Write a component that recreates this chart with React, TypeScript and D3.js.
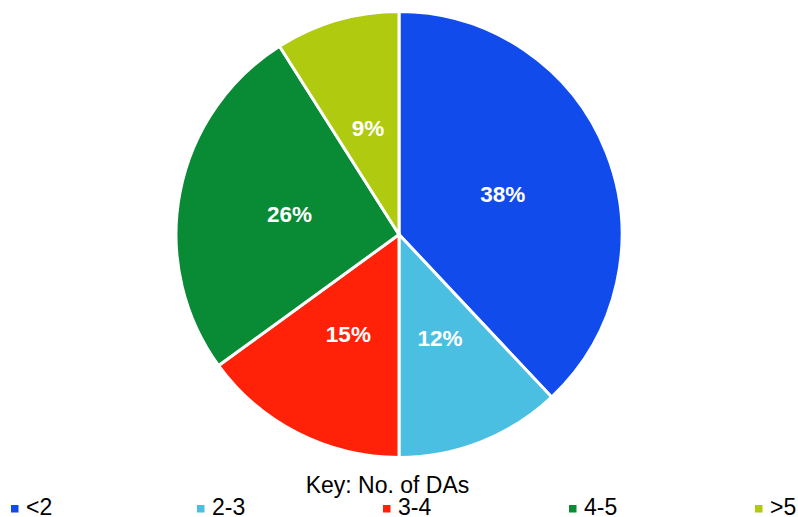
import React from "react";
import * as d3 from "d3";

const categories = ["<2", "2-3", "3-4", "4-5", ">5"];
const values = [38, 12, 15, 26, 9];
const colors = ["#124BEB", "#4BBFE1", "#FF2208", "#098A35", "#AFCA0F"];
const legendTitle = "Key: No. of DAs";

const W = 798;
const H = 517;
const cx = 399;
const cy = 234.5;
const R = 223;

export default function App() {
  const pie = d3
    .pie<number>()
    .sort(null)
    .value(d => d);
  const arcs = pie(values);
  const arc = d3.arc<d3.PieArcDatum<number>>().innerRadius(0).outerRadius(R);
  const labelArc = d3
    .arc<d3.PieArcDatum<number>>()
    .innerRadius(R * 0.5)
    .outerRadius(R * 0.5);

  // legend markers spread evenly across the width
  const legendX = d3
    .scalePoint<string>()
    .domain(categories)
    .range([11, 755]);

  return (
    <svg
      width={W}
      height={H}
      style={{ position: "absolute", left: 0, top: 0 }}
      fontFamily="Liberation Sans, Arial, sans-serif"
    >
      <rect width={W} height={H} fill="#ffffff" />
      <g transform={`translate(${cx}, ${cy})`}>
        {arcs.map((d, i) => (
          <path key={i} d={arc(d) || ""} fill={colors[i]} stroke="#ffffff" strokeWidth={3} />
        ))}
        {arcs.map((d, i) => {
          const [x, y] = labelArc.centroid(d);
          return (
            <text
              key={"t" + i}
              x={x}
              y={y}
              dy="0.36em"
              textAnchor="middle"
              fill="#ffffff"
              fontWeight="bold"
              fontSize={22.5}
            >
              {d.data}%
            </text>
          );
        })}
      </g>
      <text x={387.5} y={493} textAnchor="middle" fontSize={23} fill="#000000">
        {legendTitle}
      </text>
      {categories.map((c, i) => (
        <g key={c} transform={`translate(${legendX(c)}, 0)`}>
          <rect x={0} y={505} width={7.5} height={7.5} fill={colors[i]} />
          <text x={15} y={515} fontSize={23} fill="#000000">
            {c}
          </text>
        </g>
      ))}
    </svg>
  );
}
